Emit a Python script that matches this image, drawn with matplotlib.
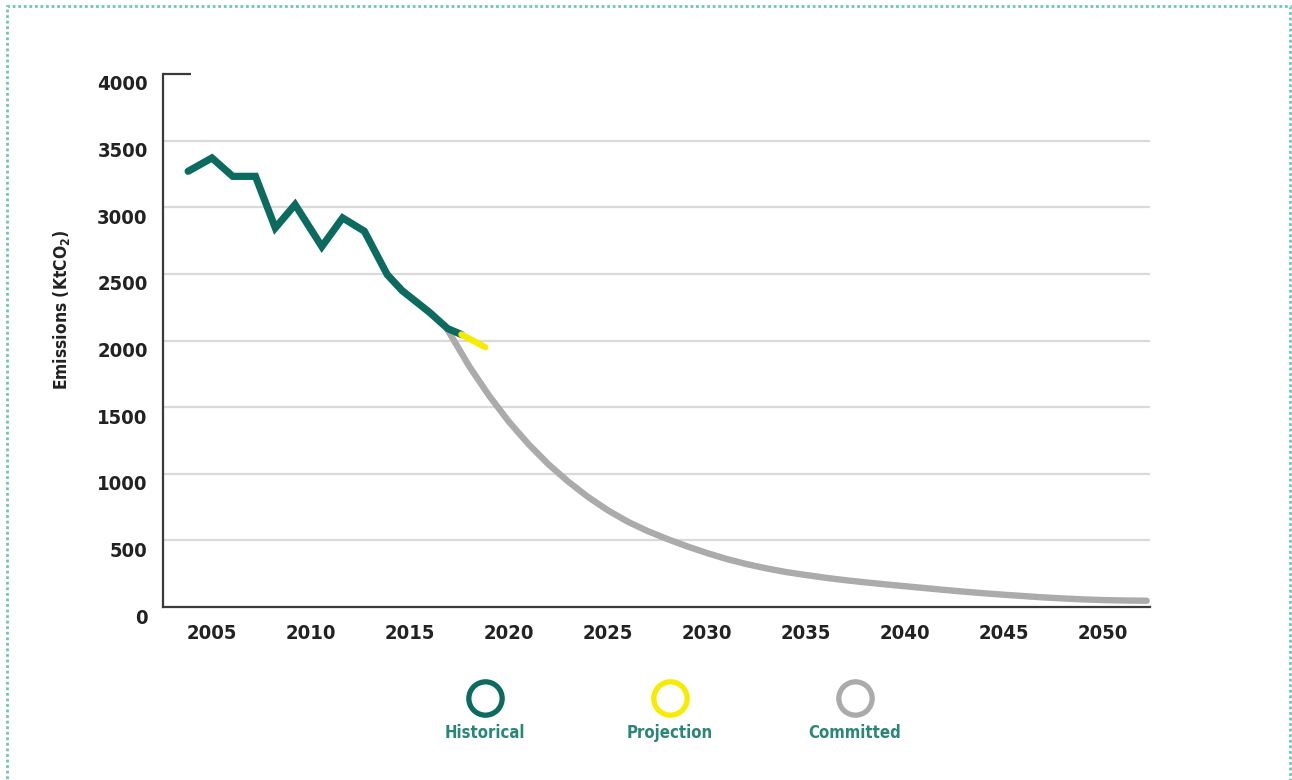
import matplotlib
matplotlib.use('Agg')
import matplotlib.pyplot as plt
import matplotlib.transforms as mtransforms
from matplotlib.lines import Line2D
from matplotlib.patches import Rectangle

#Values (x in years on the chart's own axis)
hist_years = [2003.8, 2005.0, 2006.05, 2007.2, 2008.2, 2009.2, 2010.55, 2011.6,
              2012.7, 2013.85, 2014.6, 2016.0, 2016.9, 2017.6]
hist_vals = [3270, 3370, 3232, 3232, 2845, 3020, 2705, 2920,
             2820, 2495, 2375, 2210, 2090, 2045]

proj_years = [2017.6, 2018.8]
proj_vals = [2045, 1950]

comm_years = [2016.9, 2018, 2019, 2020, 2021, 2022, 2023, 2024, 2025, 2026,
              2027, 2028, 2029, 2030, 2031, 2032, 2033, 2034, 2035, 2036,
              2037, 2038, 2039, 2040, 2041, 2042, 2043, 2044, 2045, 2046,
              2047, 2048, 2049, 2050, 2051, 2052.2]
comm_vals = [2080, 1805, 1585, 1390, 1220, 1070, 940, 825, 725, 640,
             570, 510, 455, 405, 360, 322, 290, 262, 240, 219,
             201, 185, 170, 156, 142, 128, 115, 103, 92, 82,
             72, 64, 57, 52, 49, 47]

x_ticks = [2005, 2010, 2015, 2020, 2025, 2030, 2035, 2040, 2045, 2050]
y_ticks = [0, 500, 1000, 1500, 2000, 2500, 3000, 3500, 4000]

legend_names = ['Historical', 'Projection', 'Committed']

TEAL = '#0b6b5f'
YELLOW = '#f7ec00'
GREY = '#ababab'
LEGEND_TEXT = '#2a8676'

plt.rcParams['font.family'] = ['DejaVu Sans']
plt.rcParams['font.stretch'] = 'condensed'
plt.rcParams['font.weight'] = 'bold'

fig = plt.figure(figsize=(12.92, 7.80), dpi=100)
ax = fig.add_axes([163 / 1292, 1 - 607 / 780, (1150 - 163) / 1292, (607 - 74) / 780])

#Gridlines (no 4000 line, that one is just a stub on the spine)
for v in y_ticks[1:-1]:
    ax.axhline(v, color='#dadada', lw=1.6, zorder=1)

#Committed curve under the other two
ax.plot(comm_years, comm_vals, color=GREY, lw=4.6, solid_capstyle='round', zorder=2)
ax.plot(hist_years, hist_vals, color=TEAL, lw=5.2, solid_capstyle='round',
        solid_joinstyle='miter', zorder=3)
ax.plot(proj_years, proj_vals, color=YELLOW, lw=4.6, solid_capstyle='round', zorder=4)

ax.set_xlim(2002.53, 2052.37)
ax.set_ylim(0, 4000)

for s in ['top', 'right']:
    ax.spines[s].set_visible(False)
for s in ['left', 'bottom']:
    ax.spines[s].set_color('#3a3a3a')
    ax.spines[s].set_linewidth(1.6)
#Short cap at the top of the y axis
ax.plot([0, 0.028], [1, 1], transform=ax.transAxes, color='#3a3a3a', lw=1.6,
        clip_on=False, solid_capstyle='butt')

ax.set_xticks(x_ticks)
ax.set_yticks(y_ticks)
ax.tick_params(axis='both', length=0, labelsize=14.5, colors='#222222')
ax.tick_params(axis='x', pad=12)
ax.tick_params(axis='y', pad=11)
ax.set_yticklabels([str(v) for v in y_ticks])
#y labels sit a bit below their gridlines in the reference
offset = mtransforms.ScaledTranslation(0, -9 / 100, fig.dpi_scale_trans)
for lab in ax.get_yticklabels():
    lab.set_transform(lab.get_transform() + offset)
for lab in ax.get_xticklabels() + ax.get_yticklabels():
    lab.set_fontweight('bold')
    lab.set_fontstretch('condensed')

fig.text(62 / 1292, 1 - 310 / 780, r'Emissions (KtCO$_\mathregular{2}$)', rotation=90,
         ha='center', va='center', fontsize=12.5, fontweight='bold', color='#222222')

#Legend: rings with a label below
leg_x = [485, 670, 855]
leg_cols = [TEAL, YELLOW, GREY]
for name, px, c in zip(legend_names, leg_x, leg_cols):
    fig.add_artist(Line2D([px / 1292], [1 - 698 / 780], marker='o', markersize=24,
                          markerfacecolor='none', markeredgecolor=c, markeredgewidth=3.8,
                          transform=fig.transFigure))
    fig.text(px / 1292, 1 - 733 / 780, name, ha='center', va='center', fontsize=12,
             fontweight='bold', color=LEGEND_TEXT)

#Dotted frame round the whole figure
fig.add_artist(Rectangle((7 / 1292, -0.05), (1290 - 7) / 1292, 1.05 - 6 / 780,
                         transform=fig.transFigure, fill=False, edgecolor='#6cc9b0',
                         lw=2.0, linestyle=(0, (1, 1))))

fig.savefig('out.png', dpi=100)
